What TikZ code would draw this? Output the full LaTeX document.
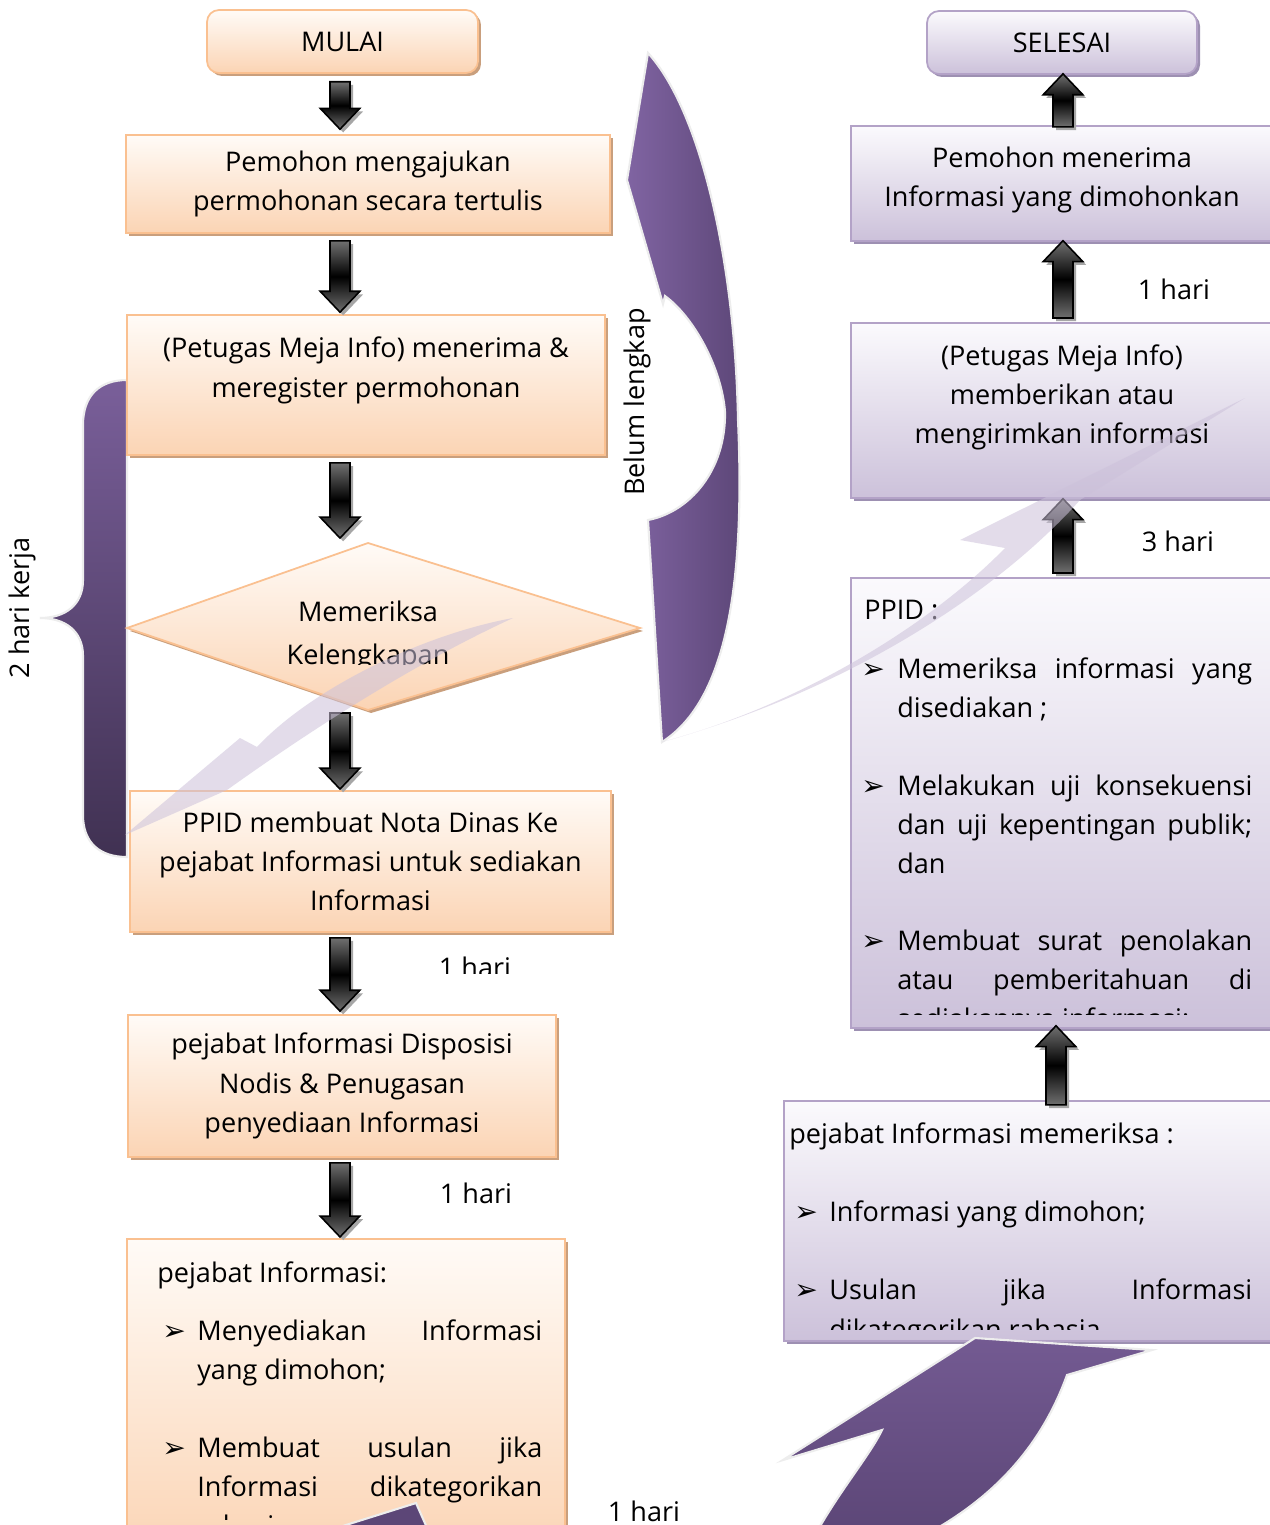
\documentclass[tikz,border=0pt]{standalone}
\usepackage{fontspec}
\setmainfont{Open Sans}
\newfontfamily\dejavu{DejaVu Sans}
\usetikzlibrary{calc}
\usetikzlibrary{shadows}
\definecolor{pchtop}{HTML}{FFFBF7}
\definecolor{pchbot}{HTML}{FBD4B4}
\definecolor{pchline}{HTML}{FAC090}
\definecolor{pchshad}{HTML}{C99F7D}
\definecolor{liltop}{HTML}{FBFAFD}
\definecolor{lilbot}{HTML}{CCC1DA}
\definecolor{lilline}{HTML}{B3A2C7}
\definecolor{lilshad}{HTML}{9D90B2}
\definecolor{plum}{HTML}{8064A2}
\definecolor{plumdark}{HTML}{5C4677}
\definecolor{plumdeep}{HTML}{403152}
\definecolor{blkgrey}{HTML}{707070}
\newcommand{\px}{0.02cm}
\newcommand{\bul}{{\dejavu\fontsize{16}{16}\selectfont ➢}}
% panah blok hitam: #1 awal, #2 ujung, #3 #4 jarak (pt)
\newcommand{\blkarrow}[4]{%
  \foreach \blkst in {blkshadow,blkbody}
    \path[\blkst] let \p1=#1, \p2=#2, \n1={ifthenelse(\y2>\y1,1,-1)},
        \n2={\y1+\n1*#3}, \n3={\y2-\n1*#4}, \n4={\y2-\n1*(#4+11.9)} in
      ({\x1-5.7pt},{\n2*1pt}) -- ({\x1-5.7pt},{\n4*1pt}) -- ({\x1-11.3pt},{\n4*1pt})
      -- (\x1,{\n3*1pt}) -- ({\x1+11.3pt},{\n4*1pt}) -- ({\x1+5.7pt},{\n4*1pt})
      -- ({\x1+5.7pt},{\n2*1pt}) -- cycle;}

\begin{document}
\begin{tikzpicture}[x=0.02cm, y=-0.02cm,
    txt/.style={font=\fontsize{15.4}{22.3}\selectfont, inner sep=0pt},
    pfill/.style={draw=pchline, line width=1pt, top color=pchtop, bottom color=pchbot,
      drop shadow={shadow xshift=1.7pt, shadow yshift=-1.7pt, fill=pchshad, opacity=1}},
    lfill/.style={draw=lilline, line width=1pt, top color=liltop, bottom color=lilbot,
      drop shadow={shadow xshift=1.7pt, shadow yshift=-1.7pt, fill=lilshad, opacity=1}},
    pbox/.style={pfill, txt, align=center},
    lbox/.style={lfill, txt, align=center},
    blkshadow/.style={fill=black!35, transform canvas={shift={(1.8pt,-1.8pt)}}},
    blkbody/.style={draw=black, line width=0.9pt, top color=blkgrey, bottom color=blkgrey, middle color=black},
    plumarrow/.style={draw=white!93!black, line width=1.2pt, left color=plum, right color=plumdark},
    faint/.style={fill=lilbot, fill opacity=0.55}]
\useasboundingbox (0,0) rectangle (1270,1525);
\fill[white] (0,0) rectangle (1270,1525);
\coordinate (lx) at (340,0);
\coordinate (rx) at (1063,0);
\coordinate (rxb) at (1056,0);

% kurung 2 hari kerja
\path[draw=white!93!black, line width=1.2pt, top color=plum!95!black, bottom color=plumdeep]
  (127,380) .. controls (100,380) and (83,395) .. (83,425) -- (83,580)
  .. controls (83,605) and (65,618) .. (40,618) .. controls (65,618) and (83,631) .. (83,656)
  -- (83,815) .. controls (83,843) and (100,857) .. (127,857) -- cycle;
\node[txt, rotate=90] (durasi) at (22,608) {2 hari kerja};

% kolom kiri
\node[pbox, rounded corners=0.24cm, minimum width=271*\px, minimum height=63*\px] (mulai) at (342.5,41.5) {MULAI};
\node[pbox, minimum width=484*\px, minimum height=98*\px] (ajukan) at (368,184) {Pemohon mengajukan\\permohonan secara tertulis};
\node[pbox, minimum width=478*\px, minimum height=140*\px] (terima) at (366,385) {};
\foreach \y/\ltxt [count=\i] in {357/{(Petugas Meja Info) menerima \&}, 397/{meregister permohonan}}
  \node[txt, anchor=base] (terima\i) at (366,\y) {\ltxt};
\path[pfill] (127,628) coordinate (cekl) -- (368,543) coordinate (cekt) -- (640,628) coordinate (cekr)
  -- (368,710) coordinate (cekb) -- cycle;
\begin{scope}
  \clip (127,540) rectangle (640,664);
  \node[txt, anchor=base] (cek1) at (368,621) {Memeriksa};
  \node[txt, anchor=base] (cek2) at (368,664) {Kelengkapan};
\end{scope}
\node[pbox, minimum width=481*\px, minimum height=141*\px] (nota) at (370.5,861.5) {PPID membuat Nota Dinas Ke\\pejabat Informasi untuk sediakan\\Informasi};
\node[pbox, minimum width=428*\px, minimum height=142*\px] (disposisi) at (342,1086) {pejabat Informasi Disposisi\\Nodis \& Penugasan\\penyediaan Informasi};
\node[pbox, minimum width=438*\px, minimum height=320*\px, anchor=north west] (sediakan) at (126,1238) {};
\begin{scope}
  \clip (126,1238) rectangle (564,1519);
  \node[txt, anchor=base west] (sd0) at (157,1282) {pejabat Informasi:};
  \foreach \y in {1340,1457} \node[txt, anchor=base west] at (162,\y) {\bul};
  \foreach \y/\ltxt in {1340/{Menyediakan\hfill Informasi}, 1457/{Membuat\hfill usulan\hfill jika},
      1496/{Informasi\hfill dikategorikan}}
    \node[txt, anchor=base west] at (197,\y) {\hbox to 6.9cm{\ltxt}};
  \foreach \y/\ltxt in {1379/{yang dimohon;}, 1535/rahasia}
    \node[txt, anchor=base west] at (197,\y) {\ltxt};
\end{scope}

% kolom kanan
\node[lbox, rounded corners=0.24cm, minimum width=270*\px, minimum height=63*\px] (selesai) at (1062,42.5) {SELESAI};
\node[lbox, minimum width=430*\px, minimum height=115*\px, anchor=north west] (terimainfo) at (850,125) {};
\foreach \y/\ltxt [count=\i] in {167/{Pemohon menerima}, 206/{Informasi yang dimohonkan}}
  \node[txt, anchor=base] (ti\i) at (1062,\y) {\ltxt};
\node[lbox, minimum width=430*\px, minimum height=175*\px, anchor=north west] (berikan) at (850,322) {};
\foreach \y/\ltxt [count=\i] in {365/{(Petugas Meja Info)}, 404/{memberikan atau}, 443/{mengirimkan informasi}}
  \node[txt, anchor=base] (br\i) at (1062,\y) {\ltxt};
\node[lbox, minimum width=430*\px, minimum height=450*\px, anchor=north west] (ppid) at (850,577) {};
\begin{scope}
  \clip (850,577) rectangle (1272,1014);
  \node[txt, anchor=base west] (pp0) at (864,619) {PPID :};
  \foreach \y in {678,795,950} \node[txt, anchor=base west] at (861,\y) {\bul};
  \foreach \y/\ltxt in {678/{Memeriksa\hfill informasi\hfill yang}, 795/{Melakukan\hfill uji\hfill konsekuensi},
      834/{dan\hfill uji\hfill kepentingan\hfill publik;}, 950/{Membuat\hfill surat\hfill penolakan},
      989/{atau\hfill pemberitahuan\hfill di}}
    \node[txt, anchor=base west] at (897,\y) {\hbox to 7.1cm{\ltxt}};
  \foreach \y/\ltxt in {717/{disediakan ;}, 873/dan, 1028/{sediakannya informasi;}}
    \node[txt, anchor=base west] at (897,\y) {\ltxt};
\end{scope}
\node[lbox, minimum width=497*\px, minimum height=240*\px, anchor=north west] (periksa) at (783,1100) {};
\begin{scope}
  \clip (783,1100) rectangle (1272,1329);
  \node[txt, anchor=base west] (pk0) at (789,1143) {pejabat Informasi memeriksa :};
  \foreach \y in {1221,1299} \node[txt, anchor=base west] at (794,\y) {\bul};
  \node[txt, anchor=base west] (pk1) at (829,1221) {Informasi yang dimohon;};
  \node[txt, anchor=base west] (pk2) at (829,1299) {\hbox to 8.46cm{Usulan\hfill jika\hfill Informasi}};
  \node[txt, anchor=base west] (pk3) at (829,1339) {dikategorikan rahasia};
\end{scope}

% panah alur
\blkarrow{(mulai.south -| lx)}{(ajukan.north -| lx)}{4.5}{2.8}
\blkarrow{(ajukan.south -| lx)}{(terima.north -| lx)}{4}{1.1}
\blkarrow{(terima.south -| lx)}{(cekt -| lx)}{4}{2.8}
\blkarrow{(cekb -| lx)}{(nota.north -| lx)}{1.7}{0.6}
\blkarrow{(nota.south -| lx)}{(disposisi.north -| lx)}{2.8}{1.7}
\blkarrow{(disposisi.south -| lx)}{(sediakan.north -| lx)}{2.8}{0.6}
\blkarrow{(terimainfo.north -| rx)}{(selesai.south -| rx)}{-1.1}{-0.6}
\blkarrow{(berikan.north -| rx)}{(terimainfo.south -| rx)}{2.3}{-0.6}
\blkarrow{(ppid.north -| rx)}{(berikan.south -| rx)}{2.3}{0}
\blkarrow{(periksa.north -| rxb)}{(ppid.south -| rxb)}{-2.8}{-1.7}

% label hari
\begin{scope}
  \clip (400,940) rectangle (560,973);
  \node[txt, anchor=base] (hari1) at (475,977) {1 hari};
\end{scope}
\node[txt, anchor=base] (hari2) at (476,1203) {1 hari};
\node[txt, anchor=base] (hari3) at (644,1521) {1 hari};
\node[txt, anchor=base] (hari4) at (1174,299) {1 hari};
\node[txt, anchor=base] (hari5) at (1178,551) {3 hari};

% panah belum lengkap
\path[plumarrow] (648,53) .. controls (700,110) and (735,260) .. (738,420)
  .. controls (745,580) and (728,700) .. (662,742) -- (648,520)
  .. controls (690,512) and (726,470) .. (725,412) .. controls (722,370) and (695,318) .. (665,296)
  -- (663,304) -- (627,180) -- cycle;
\node[txt, rotate=90] (belum) at (637,402) {Belum lengkap};

% panah ungu bawah
\path[draw=white!93!black, line width=1.2pt, top color=plum!90!black, bottom color=plumdark]
  (783,1460) -- (975,1338) -- (1152,1350) -- (1067,1375)
  .. controls (1040,1450) and (990,1500) .. (925,1535) -- (815,1535)
  .. controls (840,1490) and (870,1455) .. (882,1430) -- cycle;
\path[draw=white!93!black, line width=1.2pt, fill=plumdark] (330,1530) -- (416,1503) -- (428,1530) -- cycle;

% bayangan panah samar
\path[faint] (662,742) .. controls (800,705) and (930,625) .. (1005,548) -- (960,540) -- (1245,398)
  -- (1080,500) .. controls (1000,590) and (850,690) .. (662,742) -- cycle;
\path[faint] (513,618) .. controls (420,635) and (310,690) .. (257,747) -- (240,738) -- (125,835)
  -- (227,790) .. controls (290,745) and (400,670) .. (513,618) -- cycle;
\end{tikzpicture}
\end{document}
